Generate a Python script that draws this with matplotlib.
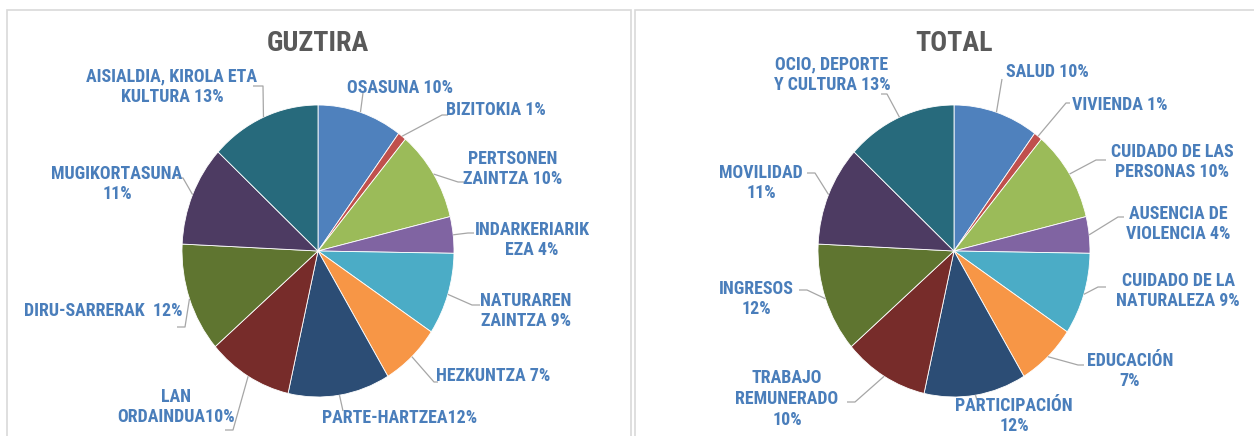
import matplotlib
matplotlib.use("Agg")
import matplotlib.pyplot as plt
from matplotlib import font_manager
from matplotlib.patches import Rectangle
import numpy as np

# pick the narrowest sans available (the original uses Calibri bold)
available = {f.name for f in font_manager.fontManager.ttflist}
for name in ['Liberation Sans Narrow', 'DejaVu Sans Condensed', 'Roboto Condensed',
             'Open Sans Condensed', 'Lato', 'Roboto', 'Liberation Sans', 'DejaVu Sans']:
    if name in available:
        main_font = name
        break
plt.rcParams['font.family'] = [main_font, 'DejaVu Sans']

# data
values_eu = [10, 1, 10, 4, 9, 7, 12, 10, 12, 11, 13]
labels_eu = ["OSASUNA 10%", "BIZITOKIA 1%", "PERTSONEN\nZAINTZA 10%", "INDARKERIARIK\nEZA 4%",
             "NATURAREN\nZAINTZA 9%", "HEZKUNTZA 7%", "PARTE-HARTZEA12%", "LAN\nORDAINDUA10%",
             "DIRU-SARRERAK  12%", "MUGIKORTASUNA\n11%", "AISIALDIA, KIROLA ETA\nKULTURA 13%"]

values_es = [10, 1, 10, 4, 9, 7, 12, 10, 12, 11, 13]
labels_es = ["SALUD 10%", "VIVIENDA 1%", "CUIDADO DE LAS\nPERSONAS 10%", "AUSENCIA DE\nVIOLENCIA 4%",
             "CUIDADO DE LA\nNATURALEZA 9%", "EDUCACIÓN\n7%", "PARTICIPACIÓN\n12%",
             "TRABAJO\nREMUNERADO\n10%", "INGRESOS\n12%", "MOVILIDAD\n11%", "OCIO, DEPORTE\nY CULTURA 13%"]

colors = ["#4F81BD", "#C0504D", "#9BBB59", "#8064A2", "#4BACC6", "#F79646",
          "#2C4D75", "#772C2A", "#5F7530", "#4D3B62", "#276A7C"]

# layout (pixel positions of labels and leader line bends)
eu_text_pos = [(400, 88), (496, 110), (513, 169), (532, 240), (526, 311), (493, 376),
               (400, 418), (176, 407), (103, 311), (117, 184), (172, 87)]
eu_leaders = [[(363, 93)], [(442, 115), (448, 115)], [(458, 182), (464, 182)],
              [(468, 233), (474, 233)], [(472, 305), (480, 305)], [(434, 382), (438, 382)],
              [(343, 411)], [(233, 430), (225, 430)], [(185, 327), (177, 327)],
              [(183, 178), (177, 178)], [(263, 86), (253, 86)]]

es_text_pos = [(1047, 72), (1120, 105), (1172, 162), (1178, 224), (1178, 291), (1130, 371),
               (1014, 416), (787, 399), (756, 299), (761, 183), (832, 75)]
es_leaders = [[(1002, 79)], [(1066, 103), (1070, 103)], [(1096, 160), (1106, 160)],
              [(1118, 217), (1124, 217)], [(1098, 287), (1106, 287)], [(1078, 365), (1084, 365)],
              [(977, 400)], [(855, 402), (847, 402)], [(807, 290), (799, 290)],
              [(815, 173), (807, 173)], [(887, 94), (881, 94)]]

W, H = 1254, 436
rx, ry = 136, 146
k = ry / rx


def P(px, py):
    return px, (H - py) / k


fig = plt.figure(figsize=(W / 100, H / 100), dpi=100)
ax = fig.add_axes([0, 0, 1, 1])
renderer = fig.canvas.get_renderer()


def fit_size(text, target_px, base=12):
    t = fig.text(0, 0, text, fontsize=base, fontweight="bold")
    w = t.get_window_extent(renderer).width
    t.remove()
    return base * target_px / w


label_size = min(13.5, fit_size("OSASUNA 10%", 106))
title_size = min(21, fit_size("GUZTIRA", 102))

label_color = "#4A7EBB"
line_color = "#A6A6A6"


def draw_pie(values, labels, center_px, title, text_pos, leaders):
    c = P(*center_px)
    wedges, _ = ax.pie(values, colors=colors, startangle=90, counterclock=False,
                       radius=rx, center=c, frame=True,
                       wedgeprops=dict(linewidth=0.6, edgecolor="white"))
    for w, lab, tp, lead in zip(wedges, labels, text_pos, leaders):
        mid = np.deg2rad((w.theta1 + w.theta2) / 2)
        start = (c[0] + rx * np.cos(mid), c[1] + rx * np.sin(mid))
        pts = [start] + [P(*p) for p in lead]
        xs, ys = zip(*pts)
        ax.plot(xs, ys, color=line_color, lw=0.9, solid_capstyle="butt")
        ax.text(*P(*tp), lab, ha="center", va="center", multialignment="center",
                fontsize=label_size, fontweight="bold", color=label_color, linespacing=1.2)
    ax.text(*P(center_px[0], 43), title, ha="center", va="center",
            fontsize=title_size, fontweight="bold", color="#595959")


draw_pie(values_eu, labels_eu, (318, 251), "GUZTIRA", eu_text_pos, eu_leaders)
draw_pie(values_es, labels_es, (954, 251), "TOTAL", es_text_pos, es_leaders)

# chart frames
for x0, x1 in [(7, 631), (635, 1262)]:
    ax.add_patch(Rectangle(P(x0, 450), x1 - x0, (450 - 10) / k, fill=False,
                           edgecolor="#D9D9D9", lw=1.2, clip_on=False))

ax.set_aspect("auto")
ax.set_xlim(0, W)
ax.set_ylim(0, H / k)
ax.axis("off")

fig.savefig("out.png", dpi=100)
